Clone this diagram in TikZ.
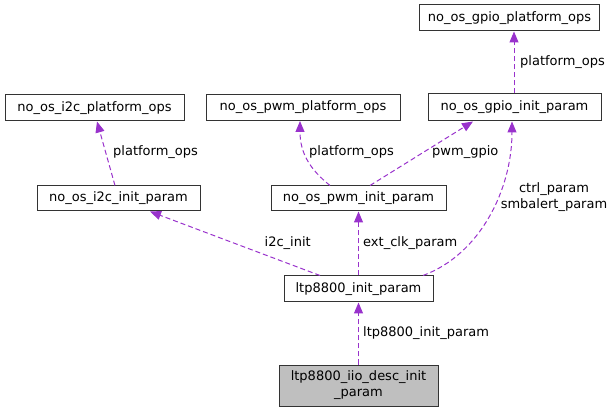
\documentclass[tikz,border=0pt]{standalone}
\usepackage{fontspec}
\setmainfont{DejaVu Sans}
\usetikzlibrary{arrows.meta}
\definecolor{edgepurple}{RGB}{153,50,204}
\definecolor{boxgray}{RGB}{191,191,191}

\begin{document}
\begin{tikzpicture}[x=1pt,y=1pt,
  cls/.style={draw=black!80, line width=1pt, minimum height=26pt, inner sep=0pt, font=\fontsize{13}{16}\selectfont},
  dep/.style={draw=edgepurple, line width=1pt, dash pattern=on 5pt off 3pt, -{Triangle[length=11pt,width=9pt,fill=edgepurple]}},
  lbl/.style={inner sep=0pt, font=\fontsize{13}{16}\selectfont}]
\useasboundingbox (0,0) rectangle (615,412);

% platform ops
\node[cls, minimum width=180pt] (gpioops) at (509.5,394) {no\_os\_gpio\_platform\_ops};
\node[cls, minimum width=194pt] (pwmops) at (303,304.5) {no\_os\_pwm\_platform\_ops};
\node[cls, minimum width=179pt] (i2cops) at (94.5,304) {no\_os\_i2c\_platform\_ops};

% init params
\node[cls, minimum width=173pt, minimum height=27pt] (gpioinit) at (514.5,304.5) {no\_os\_gpio\_init\_param};
\node[cls, minimum width=163pt, minimum height=25pt] (i2cinit) at (118.5,213.5) {no\_os\_i2c\_init\_param};
\node[cls, minimum width=175pt, minimum height=25pt] (pwminit) at (358.5,213.5) {no\_os\_pwm\_init\_param};
\node[cls, minimum width=149pt] (ltpinit) at (358.5,123) {ltp8800\_init\_param};

% main struct
\node[cls, fill=boxgray, minimum width=159pt, minimum height=41pt, align=center] (iiodesc) at (358.5,26.5) {ltp8800\_iio\_desc\_init\\\_param};

% members
\draw[dep] ([xshift=-3.5pt]i2cinit.north) -- ([xshift=2.5pt]i2cops.south);
\draw[dep] ([xshift=-28.5pt]pwminit.north) .. controls +(-20,16) and +(0,-32) .. ([xshift=-3pt]pwmops.south);
\draw[dep] ([xshift=11.5pt]pwminit.north) -- ([xshift=-41.5pt]gpioinit.south);
\draw[dep] ([xshift=-0.5pt]gpioinit.north) -- ([xshift=4.5pt]gpioops.south);
\draw[dep] ([xshift=-38.5pt]ltpinit.north) -- ([xshift=31.5pt]i2cinit.south);
\draw[dep] (ltpinit.north) -- (pwminit.south);
\draw[dep] ([xshift=64.5pt]ltpinit.north) .. controls +(57,21) and +(0,-68) .. ([xshift=-2.5pt]gpioinit.south);
\draw[dep] (iiodesc.north) -- (ltpinit.south);

% labels
\node[lbl, anchor=west] (li2cops) at (113,260) {platform\_ops};
\node[lbl, anchor=west] (lpwmops) at (309,260) {platform\_ops};
\node[lbl, anchor=west] (lpwmgpio) at (432,260) {pwm\_gpio};
\node[lbl, anchor=west] (lgpioops) at (520,350) {platform\_ops};
\node[lbl, align=center] (lctrl) at (554,214.5) {ctrl\_param\\smbalert\_param};
\node[lbl, anchor=east] (li2cinit) at (311,169) {i2c\_init};
\node[lbl, anchor=west] (lextclk) at (363,169) {ext\_clk\_param};
\node[lbl, anchor=west] (lltpinit) at (363,79) {ltp8800\_init\_param};
\end{tikzpicture}
\end{document}
